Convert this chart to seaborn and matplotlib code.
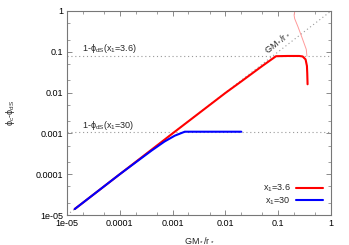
import numpy as np
import pandas as pd
import matplotlib
matplotlib.use("Agg")
import matplotlib.pyplot as plt
import matplotlib.ticker as mticker
import seaborn as sns

# ---- data ----
red_x = [1.4e-5, 1e-4, 1e-3, 0.01, 0.02, 0.05, 0.091, 0.15, 0.25, 0.29, 0.33, 0.35, 0.355, 0.36]
red_y = [1.4e-5, 1e-4, 1e-3, 0.0098, 0.0188, 0.045, 0.078, 0.079, 0.079, 0.077, 0.065, 0.045, 0.03, 0.016]
pink_x = [0.35, 0.34, 0.28, 0.237, 0.205, 0.2, 0.207]
pink_y = [0.078, 0.115, 0.23, 0.41, 0.65, 0.8, 1.0]
blue_x = [1.4e-5, 1e-4, 4e-4, 7e-4, 1.1e-3, 1.7e-3, 0.02]
blue_y = [1.4e-5, 1e-4, 3.8e-4, 6.3e-4, 8.8e-4, 1.1e-3, 1.1e-3]
diag_x = [1e-5, 1.0]
diag_y = [1e-5, 1.0]
phi36 = 0.077
phi30 = 0.0011
tick_vals = [1e-5, 1e-4, 1e-3, 1e-2, 1e-1, 1]
tick_labels = ["1e-05", "0.0001", "0.001", "0.01", "0.1", "1"]

sns.set_style("ticks")
plt.rcParams['font.family'] = ['Liberation Sans', 'DejaVu Sans']
plt.rcParams['mathtext.fontset'] = 'custom'
plt.rcParams['mathtext.rm'] = 'Liberation Sans'
plt.rcParams['mathtext.it'] = 'Liberation Sans'
plt.rcParams['mathtext.default'] = 'rm'
fs = 6.5

fig = plt.figure(figsize=(3.49, 2.45), dpi=100)
ax = fig.add_axes([67/349, 1-215/245, (331-67)/349, (215-11)/245])

gray = '#999999'
ax.plot(diag_x, diag_y, ls=(0, (1, 2.5)), color=gray, lw=0.8, zorder=1)
ax.axhline(phi36, ls=(0, (1, 2.5)), color=gray, lw=0.8, zorder=1)
ax.axhline(phi30, ls=(0, (1, 2.5)), color=gray, lw=0.8, zorder=1)

df_red = pd.DataFrame({"x": red_x, "y": red_y})
df_blue = pd.DataFrame({"x": blue_x, "y": blue_y})
df_pink = pd.DataFrame({"x": pink_x, "y": pink_y})
sns.lineplot(data=df_pink, x="x", y="y", sort=False, ax=ax, color='#ff9a9a', lw=0.7, zorder=2)
sns.lineplot(data=df_red, x="x", y="y", sort=False, ax=ax, color='#ff0000', lw=1.5, zorder=3, label='x$_1$=3.6')
sns.lineplot(data=df_blue, x="x", y="y", sort=False, ax=ax, color='#0000ff', lw=1.5, zorder=4, label='x$_1$=30')

ax.set_xscale('log')
ax.set_yscale('log')
ax.set_xlim(1e-5, 1)
ax.set_ylim(1e-5, 1)
ax.xaxis.set_major_locator(mticker.FixedLocator(tick_vals))
ax.xaxis.set_major_formatter(mticker.FixedFormatter(tick_labels))
ax.yaxis.set_major_locator(mticker.FixedLocator(tick_vals))
ax.yaxis.set_major_formatter(mticker.FixedFormatter(tick_labels))
ax.xaxis.set_minor_locator(mticker.LogLocator(base=10, subs=(2, 5)))
ax.yaxis.set_minor_locator(mticker.LogLocator(base=10, subs=(2, 5)))
ax.xaxis.set_minor_formatter(mticker.NullFormatter())
ax.yaxis.set_minor_formatter(mticker.NullFormatter())
ax.tick_params(which='both', direction='in', top=True, right=True, color='#777777', labelsize=fs, labelcolor='black')
ax.tick_params(which='major', length=3.5, width=0.6, pad=3)
ax.tick_params(which='minor', length=2, width=0.5)
for s in ax.spines.values():
    s.set_color('#777777')
    s.set_linewidth(0.8)

ax.set_xlabel('GM$_*$/r$_*$', fontsize=fs, labelpad=5)
ax.set_ylabel('ϕ$_c$-ϕ$_{dS}$', fontsize=fs, labelpad=13)

ax.text(1.9e-5, 0.12, '1-ϕ$_{dS}$(x$_1$=3.6)', fontsize=fs, va='center', ha='left')
ax.text(1.9e-5, 0.0016, '1-ϕ$_{dS}$(x$_1$=30)', fontsize=fs, va='center', ha='left')
ax.text(0.095, 0.17, 'GM$_*$/r$_*$', fontsize=fs, rotation=38, ha='center', va='center', rotation_mode='anchor')

leg = ax.legend(loc='lower right', frameon=False, fontsize=fs, markerfirst=False,
                handlelength=3.0, handletextpad=0.6, labelspacing=0.1, borderaxespad=0.5)

fig.savefig('out.png', dpi=100)
